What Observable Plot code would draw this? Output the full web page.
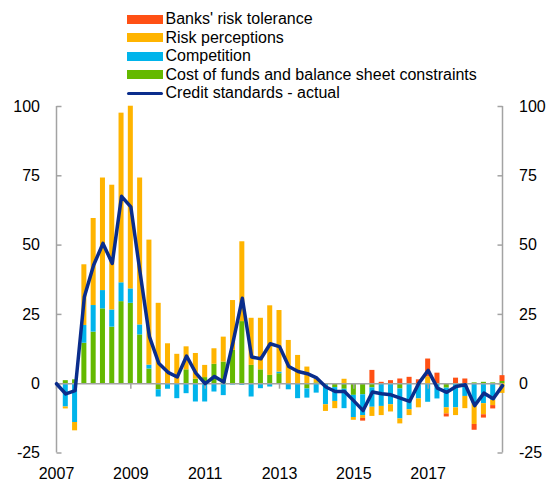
<!DOCTYPE html>
<html><head><meta charset="utf-8">
<script src="https://cdn.jsdelivr.net/npm/d3@7"></script>
<script src="https://cdn.jsdelivr.net/npm/@observablehq/plot@0.6"></script>
<style>
body{margin:0;background:#fff;}
#wrap{position:relative;width:550px;height:482px;font-family:"Liberation Sans",Arial,sans-serif;}
#legend{position:absolute;left:0;top:0;width:550px;height:110px;}
.row{position:absolute;left:126.5px;height:18px;display:flex;align-items:center;font-size:16px;color:#000;white-space:nowrap;}
.sw{width:36px;height:9px;margin-right:3px;flex:none;}
.ln{width:36px;height:3px;border-radius:2px;margin-right:3px;flex:none;}
</style></head><body><div id="wrap"><div id="legend"></div></div>
<script>
const quarters = ["2007Q1","2007Q2","2007Q3","2007Q4","2008Q1","2008Q2","2008Q3","2008Q4",
"2009Q1","2009Q2","2009Q3","2009Q4","2010Q1","2010Q2","2010Q3","2010Q4",
"2011Q1","2011Q2","2011Q3","2011Q4","2012Q1","2012Q2","2012Q3","2012Q4",
"2013Q1","2013Q2","2013Q3","2013Q4","2014Q1","2014Q2","2014Q3","2014Q4",
"2015Q1","2015Q2","2015Q3","2015Q4","2016Q1","2016Q2","2016Q3","2016Q4",
"2017Q1","2017Q2","2017Q3","2017Q4","2018Q1","2018Q2","2018Q3","2018Q4","2019Q1"];

const costOfFunds = [0,1.1,1.4,14.6,18.6,27,20.4,29.6,29,17.6,5.3,-2.2,0,0,5,1.6,2.2,7,7.8,12,22.4,6.6,5,3,3.6,0,0,-1.9,0.3,0,-1.4,-2,-4.2,-4,-1.5,0,0,-1.9,0,0,0,0,-1.6,0,0,0.3,0.5,0.3,0.8];
const competition = [0,-8.4,-14,6.4,9.6,6.6,6.2,6.8,5.2,3.6,1.4,-2.6,-2,-5.4,-3.6,-6.6,-6.6,-3,-4.3,-0.5,-0.6,-4.8,-1.8,-1.2,0.6,-2.2,-5.4,-3.3,-3.4,-7.6,-5,-7,-8,-7.5,-7,-8.2,-7.6,-10.8,-9.4,-5.5,-6.7,-5.5,-7.1,-8.7,-4.6,-7.2,-7.2,-6,0];
const riskPerceptions = [0,-0.7,-3,21.9,31.4,40.6,45,61.2,65.9,53,45.1,29,14.4,10.6,8.3,9.3,4.4,5.6,9,18,28.8,17,18.6,25.1,22.2,15.6,10.2,6,1.4,-2.4,-2.6,1.6,-1,-1,-3.3,-3.3,-2.6,-1.8,-2.1,-3.2,2.5,0,-2.2,-2.8,-4.4,-7.5,-4,-1.9,-3.5];
const riskTolerance = [0,0,0,0,0,0,0,0,0,0,0,0,0,0,0,0,0,0,0,0,0,0,0,0,0,0,0,0,0,0,0,0,0,-1,4.8,0.5,1.1,1.7,2.3,1.4,6.4,3.8,-1.1,2,1.7,-2.1,-1.2,-1.2,2.1];
const actual = [0,-3.7,-2.5,31.4,42.8,50.6,43.4,67.6,63.8,40,17,7.4,4.1,2.4,10,3.8,0,2.6,0.6,15,30.8,9.6,9,14.4,13.4,6.2,4.4,3.6,2.1,-1.2,-2.8,-2.8,-6.2,-9.7,-3,-3.6,-4,-5.2,-6.4,0.2,4.8,-1.6,-3.1,-1,-0.4,-7.9,-3.4,-5.4,-0.7];

const seriesNames = ["Cost of funds and balance sheet constraints","Competition","Risk perceptions","Banks' risk tolerance"];
const seriesColors = ["#64b900","#00b4eb","#ffb400","#ff5014"];
const lineName = "Credit standards - actual";
const lineColor = "#0a2d8c";
const yTicks = [-25,0,25,50,75,100];
const xTickLabels = ["2007","2009","2011","2013","2015","2017"];

const seriesValues = [costOfFunds, competition, riskPerceptions, riskTolerance];
const rows = [];
seriesNames.forEach((name, s) => quarters.forEach((q, i) => rows.push({i, series: name, value: seriesValues[s][i]})));
const lineRows = quarters.map((q, i) => ({i, value: actual[i]}));
const last = quarters.length - 1;
const gray = "#a3a3a3";
const tickSym = (dx, dy) => ({draw(ctx) { ctx.moveTo(0, 0); ctx.lineTo(dx, dy); }});
const xIdx = d => quarters.indexOf(d + "Q1");

const chart = Plot.plot({
  width: 550, height: 482,
  marginLeft: 56, marginRight: 48, marginTop: 106, marginBottom: 29.5,
  style: {fontFamily: '"Liberation Sans", Arial, sans-serif', fontSize: "16px", background: "transparent", overflow: "visible"},
  x: {type: "linear", domain: [0, last], axis: null},
  y: {domain: [-25, 100], axis: null},
  color: {domain: seriesNames, range: seriesColors},
  marks: [
    Plot.ruleX([0, last], {x: d => d, y1: -25, y2: 100, stroke: gray, strokeWidth: 1.5}),
    Plot.rectY(rows, {x1: d => d.i - 0.27, x2: d => d.i + 0.27, y: "value", fill: "series"}),
    Plot.ruleY([0], {y: d => d, x1: 0, x2: last, stroke: gray, strokeWidth: 1.5}),
    Plot.dot(yTicks, {x: 0, y: d => d, symbol: tickSym(5, 0), stroke: gray, strokeWidth: 1.5}),
    Plot.dot(yTicks, {x: last, y: d => d, symbol: tickSym(-5, 0), stroke: gray, strokeWidth: 1.5}),
    Plot.dot(xTickLabels, {x: xIdx, y: 0, symbol: tickSym(0, 5), stroke: gray, strokeWidth: 1.5}),
    Plot.line(lineRows, {x: "i", y: "value", stroke: lineColor, strokeWidth: 3.5, strokeLinejoin: "round", strokeLinecap: "round"}),
    Plot.text(yTicks, {x: 0, y: d => d, text: d => String(d), textAnchor: "end", dx: -16.5, fontSize: 16, fill: "#000"}),
    Plot.text(yTicks, {x: last, y: d => d, text: d => String(d), textAnchor: "start", dx: 16.5, fontSize: 16, fill: "#000"}),
    Plot.text(xTickLabels, {x: xIdx, y: -25, text: d => d, lineAnchor: "top", dy: 14.5, fontSize: 16, fill: "#000"})
  ]
});
const wrap = document.getElementById("wrap");
wrap.insertBefore(chart, wrap.firstChild);

const legend = document.getElementById("legend");
const legendItems = [
  {name: seriesNames[3], color: seriesColors[3], kind: "sw"},
  {name: seriesNames[2], color: seriesColors[2], kind: "sw"},
  {name: seriesNames[1], color: seriesColors[1], kind: "sw"},
  {name: seriesNames[0], color: seriesColors[0], kind: "sw"},
  {name: lineName, color: lineColor, kind: "ln"}
];
legendItems.forEach((it, k) => {
  const row = document.createElement("div");
  row.className = "row";
  row.style.top = (19 + 18.6 * k - 9) + "px";
  const s = document.createElement("span");
  s.className = it.kind;
  s.style.background = it.color;
  const t = document.createElement("span");
  t.textContent = it.name;
  row.appendChild(s); row.appendChild(t);
  legend.appendChild(row);
});
</script>
</body></html>
